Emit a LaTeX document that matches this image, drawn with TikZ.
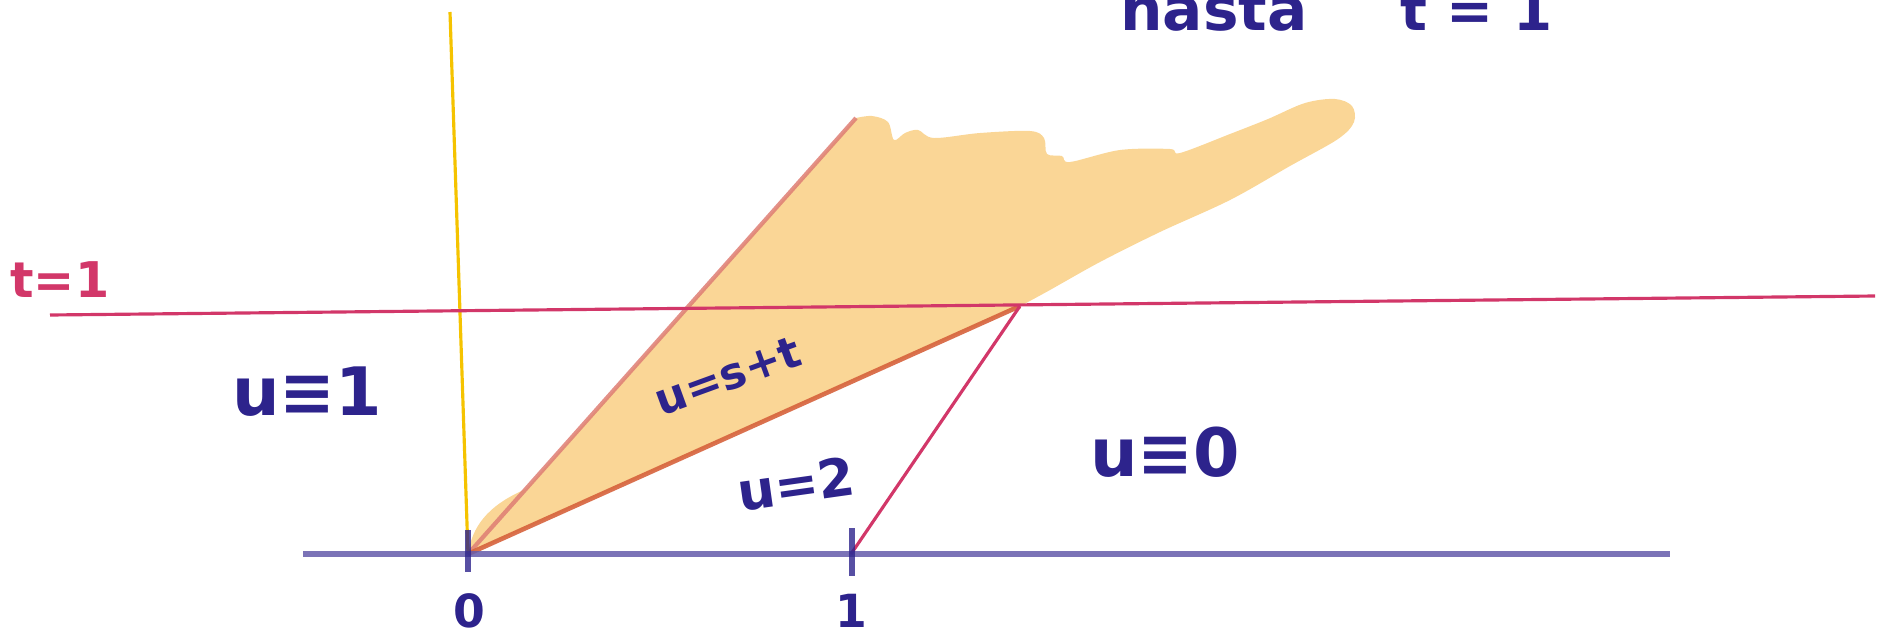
\documentclass[tikz,border=0pt]{standalone}
\usepackage{fontspec}
\setmainfont{DejaVu Sans}
\definecolor{navy}{RGB}{45,35,140}
\definecolor{axisc}{RGB}{100,90,170}
\definecolor{crim}{RGB}{210,55,105}
\definecolor{yel}{RGB}{245,195,0}
\definecolor{fillc}{RGB}{250,214,150}
\definecolor{rayc}{RGB}{214,98,60}
\definecolor{rayl}{RGB}{222,125,115}
\tikzset{
  lab/.style={text=navy, inner sep=0pt, font=\bfseries},
  axisline/.style={draw=axisc, line width=3.6pt, opacity=0.85},
  tick/.style={draw=navy, line width=3pt, opacity=0.8},
  crimline/.style={draw=crim, line width=1.8pt},
}
\begin{document}
\begin{tikzpicture}[x=0.02cm,y=-0.02cm]
\useasboundingbox (0,0) rectangle (1887,636);
\clip (0,0) rectangle (1887,636);
% key points
\coordinate (O) at (468,554);
\coordinate (A1) at (851,554);
\coordinate (P) at (1020,306);
\coordinate (L) at (856,118);
\coordinate (Y) at (450,12);
\coordinate (tL) at (50,315);
\coordinate (tR) at (1875,296);
\coordinate (axL) at (303,554);
\coordinate (axR) at (1670,554);
% orange region
\fill[fillc] (O) .. controls (472,528) and (486,506) .. (526,489) -- (L)
  -- plot[smooth, tension=0.55] coordinates {(856,118) (872,116) (888,122) (894,140) (905,133) (918,130) (934,138) (980,133) (1030,131) (1044,138) (1047,154) (1062,156) (1070,162) (1120,150) (1170,149) (1180,153) (1230,134) (1268,119) (1305,103) (1335,99) (1352,106) (1354,122) (1338,139) (1290,166) (1230,200) (1160,232) (1100,262) (1050,290) (1028,302)}
  -- (P) -- cycle;
% rays
\draw[rayl, line width=2.4pt, opacity=0.85] (O) -- (L);
\draw[rayc, line width=2.6pt, opacity=0.9] (O) -- (P);
% yellow vertical line
\draw[yel, line width=1.8pt] (O) -- (Y);
% t = 1 line
\draw[crimline] (tL) -- (tR);
% characteristic from 1
\draw[crimline] (A1) -- (P);
% axis and ticks
\draw[axisline] (axL) -- (axR);
\draw[tick] (468,530) -- (468,572);
\draw[tick] (852,528) -- (852,576);
% labels
\node[lab] (l0) at (469,611) {\fontsize{26}{28}\selectfont 0};
\node[lab] (l1) at (851,611) {\fontsize{26}{28}\selectfont 1};
\node[inner sep=0pt, text=crim, font=\bfseries, anchor=west] (tlab) at (10,280) {\fontsize{28}{32}\selectfont t=1};
\node[lab] (u1) at (307,392) {\fontsize{38}{42}\selectfont u≡1};
\node[lab, rotate=20] (ust) at (728,376) {\fontsize{25}{30}\selectfont u=s+t};
\node[lab, rotate=8] (u2) at (796,484) {\fontsize{30}{34}\selectfont u=2};
\node[lab] (u0) at (1165,452) {\fontsize{38}{42}\selectfont u≡0};
\node[lab, anchor=base west] (hasta) at (1120,30) {\fontsize{34}{40}\selectfont hasta};
\node[lab, anchor=base west] (tone) at (1400,30) {\fontsize{32}{38}\selectfont t = 1};
\end{tikzpicture}
\end{document}
